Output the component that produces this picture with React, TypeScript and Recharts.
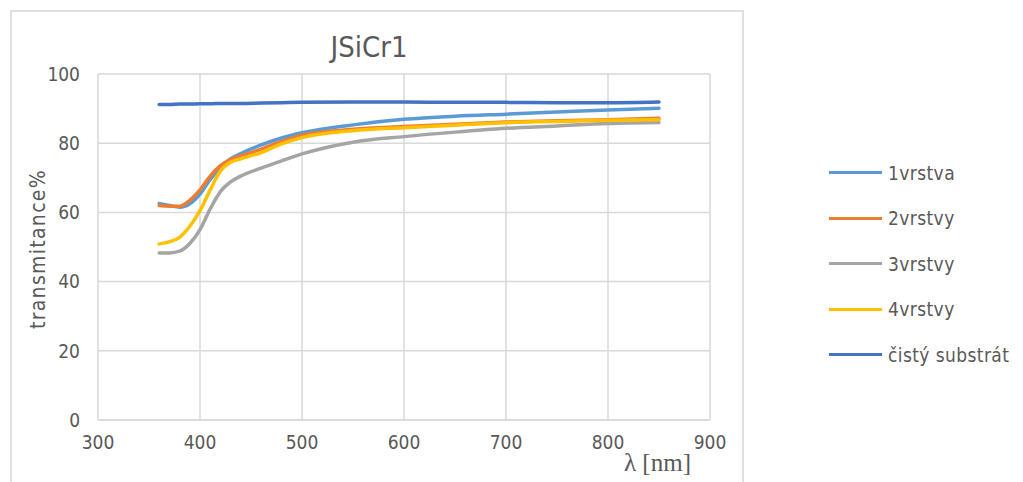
import { CartesianGrid, Line, LineChart, XAxis, YAxis } from 'recharts'

const wavelengths = [360, 370, 380, 390, 400, 410, 420, 430, 440, 460, 480, 500, 550, 600, 650, 700, 750, 800, 850]

const vrstva1 = [62.6, 62.0, 61.5, 62.5, 65.3, 69.5, 73.0, 75.5, 77.0, 79.5, 81.5, 83.0, 85.3, 86.9, 87.8, 88.4, 89.0, 89.6, 90.1]
const vrstvy2 = [62.0, 61.8, 61.8, 63.5, 66.5, 70.5, 73.5, 75.3, 76.3, 78.3, 80.5, 82.3, 84.0, 84.8, 85.5, 86.1, 86.5, 86.8, 87.2]
const vrstvy3 = [48.3, 48.3, 48.8, 51.0, 55.0, 61.0, 66.0, 68.8, 70.5, 72.8, 74.9, 76.9, 80.3, 81.9, 83.2, 84.3, 85.0, 85.7, 86.0]
const vrstvy4 = [50.9, 51.5, 52.8, 56.0, 60.5, 66.5, 72.0, 74.5, 75.5, 77.3, 79.8, 81.6, 83.6, 84.5, 85.2, 85.9, 86.3, 86.6, 86.8]
const substrat = [91.2, 91.2, 91.3, 91.3, 91.4, 91.4, 91.5, 91.5, 91.5, 91.6, 91.7, 91.8, 91.9, 91.9, 91.8, 91.8, 91.7, 91.7, 91.9]

const xTicks = [300, 400, 500, 600, 700, 800, 900]
const yTicks = [0, 20, 40, 60, 80, 100]

const seriesDefs = [
  { key: 'v1', name: '1vrstva', color: '#5B9BD5' },
  { key: 'v2', name: '2vrstvy', color: '#ED7D31' },
  { key: 'v3', name: '3vrstvy', color: '#A5A5A5' },
  { key: 'v4', name: '4vrstvy', color: '#FFC000' },
  { key: 'sub', name: 'čistý substrát', color: '#4472C4' },
]

const data = wavelengths.map((w, i) => ({
  w,
  v1: vrstva1[i],
  v2: vrstvy2[i],
  v3: vrstvy3[i],
  v4: vrstvy4[i],
  sub: substrat[i],
}))

const font = "'Liberation Sans Narrow', 'DejaVu Sans Condensed', 'Open Sans', sans-serif"
const textColor = '#595959'

function LegendBox() {
  return (
    <div style={{ position: 'absolute', left: 829, top: 150, fontFamily: font, fontSize: 19, letterSpacing: 0.4, color: textColor }}>
      {seriesDefs.map((s) => (
        <div key={s.key} style={{ display: 'flex', alignItems: 'center', height: 45.5 }}>
          <span style={{ width: 53, height: 3, background: s.color, marginRight: 6 }} />
          <span>{s.name}</span>
        </div>
      ))}
    </div>
  )
}

export default function App() {
  return (
    <div style={{ position: 'absolute', left: 0, top: 0, width: 1023, height: 482, background: '#fff', overflow: 'hidden' }}>
      <div
        style={{
          position: 'absolute',
          left: 10,
          top: 10,
          width: 734,
          height: 490,
          border: '2px solid #e0e0e0',
          boxSizing: 'border-box',
        }}
      />
      <div
        style={{
          position: 'absolute',
          left: 219,
          width: 300,
          top: 30,
          textAlign: 'center',
          fontFamily: font,
          fontSize: 29,
          color: textColor,
        }}
      >
        JSiCr1
      </div>
      <div
        style={{
          position: 'absolute',
          left: 38,
          top: 249,
          transform: 'translate(-50%, -50%) rotate(-90deg)',
          fontFamily: font,
          fontSize: 21,
          letterSpacing: 1.3,
          color: textColor,
          whiteSpace: 'nowrap',
        }}
      >
        transmitance%
      </div>
      <div style={{ position: 'absolute', left: 0, top: 0 }}>
        <LineChart width={1023} height={482} data={data} margin={{ top: 74, right: 313, left: 58, bottom: 32 }}>
          <CartesianGrid stroke="#d9d9d9" strokeWidth={1.5} />
          <XAxis
            dataKey="w"
            type="number"
            domain={[300, 900]}
            ticks={xTicks}
            tick={{ fill: textColor, fontSize: 19, fontFamily: font }}
            tickLine={false}
            axisLine={{ stroke: '#d9d9d9', strokeWidth: 1.5 }}
            height={30}
            tickMargin={10}
          />
          <YAxis
            domain={[0, 100]}
            ticks={yTicks}
            tick={{ fill: textColor, fontSize: 19, fontFamily: font }}
            tickLine={false}
            axisLine={false}
            width={40}
            tickMargin={12}
          />
          {seriesDefs.map((s) => (
            <Line
              key={s.key}
              type="monotone"
              dataKey={s.key}
              name={s.name}
              stroke={s.color}
              strokeWidth={3.5}
              strokeLinecap="round"
              dot={false}
              activeDot={false}
              isAnimationActive={false}
            />
          ))}
        </LineChart>
      </div>
      <div
        style={{
          position: 'absolute',
          left: 624,
          top: 449,
          fontFamily: "'Liberation Serif', 'DejaVu Serif', serif",
          fontSize: 25,
          color: textColor,
          whiteSpace: 'nowrap',
        }}
      >
        λ [nm]
      </div>
      <LegendBox />
    </div>
  )
}
